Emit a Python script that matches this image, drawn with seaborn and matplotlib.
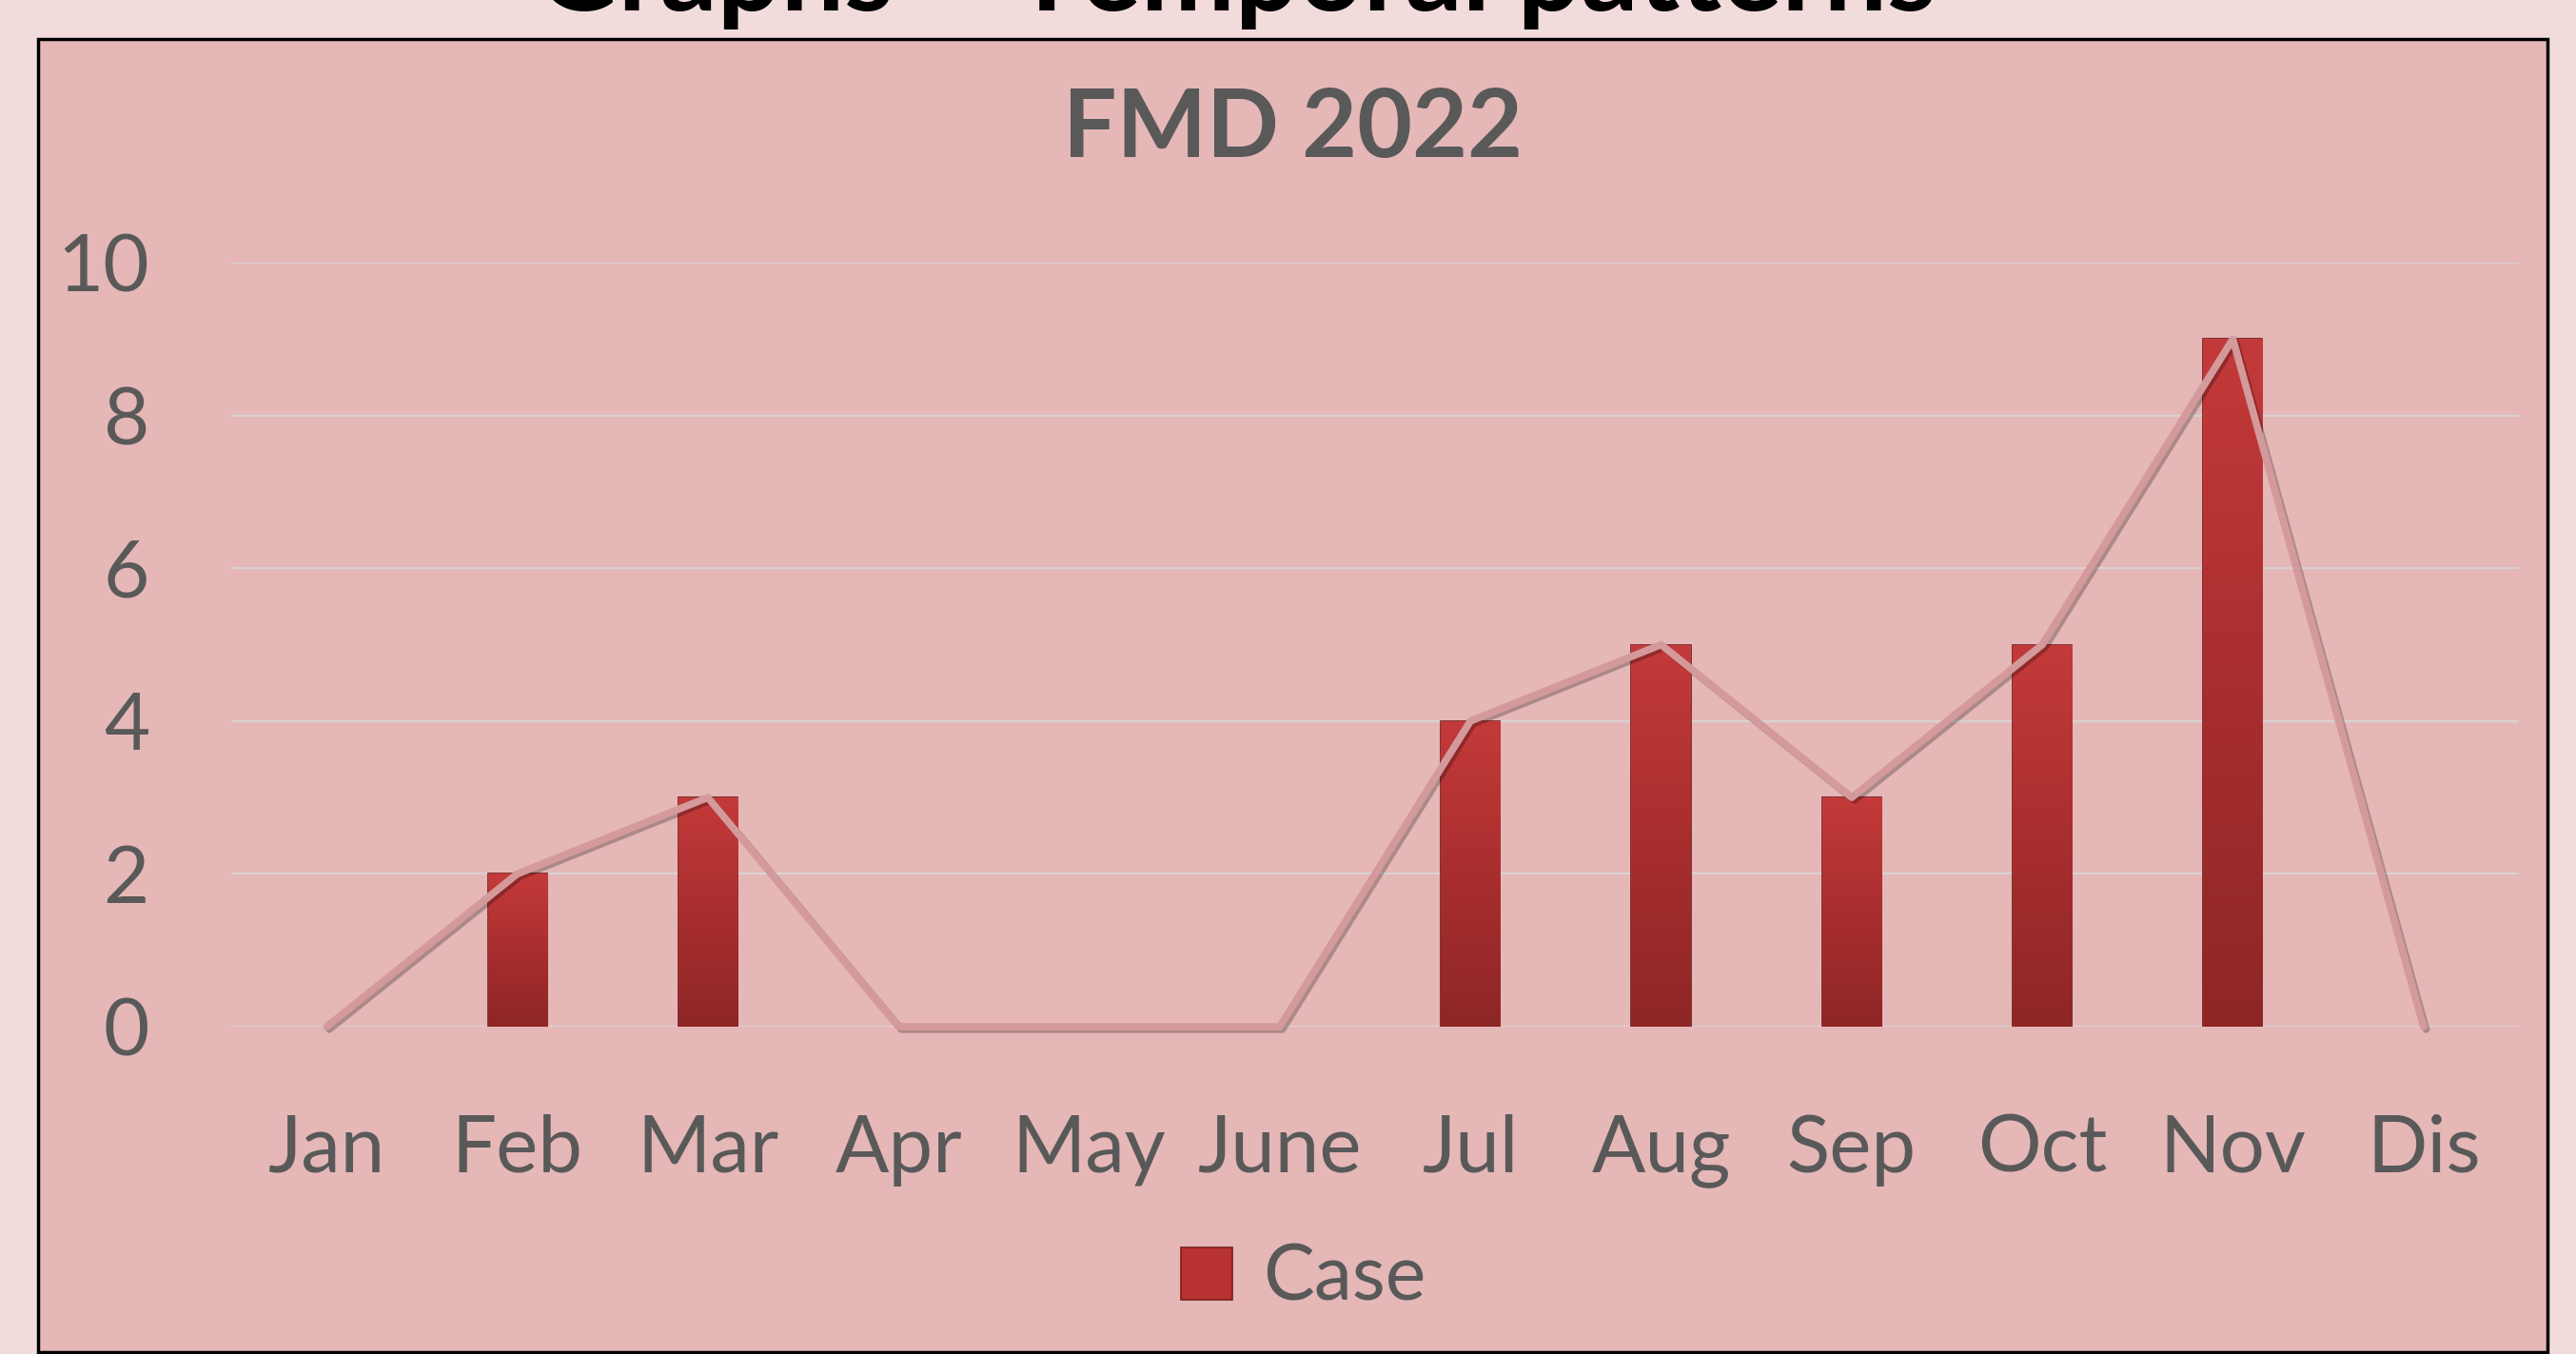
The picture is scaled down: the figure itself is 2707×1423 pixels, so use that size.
import seaborn as sns
import pandas as pd
import numpy as np
import matplotlib.pyplot as plt
import matplotlib.patheffects as pe
from matplotlib.patches import Rectangle
from matplotlib.colors import LinearSegmentedColormap

months = ["Jan", "Feb", "Mar", "Apr", "May", "June", "Jul", "Aug", "Sep", "Oct", "Nov", "Dis"]
cases = [0, 2, 3, 0, 0, 0, 4, 5, 3, 5, 9, 0]
y_ticks = [0, 2, 4, 6, 8, 10]

sns.set_style("white")
plt.rcParams["font.family"] = ["Lato", "DejaVu Sans"]

df = pd.DataFrame({"month": months, "case": cases})

fig = plt.figure(figsize=(27.07, 14.23), dpi=100, facecolor="#f2dcdb")

# panel behind the chart
panel = Rectangle((0.0148, 0.0014), 0.9741, 0.9698, transform=fig.transFigure,
                  facecolor="#e5b7b7", edgecolor="black", lw=2.5, zorder=-5)
fig.patches.append(panel)

ax = fig.add_axes([0.0898, 0.2417, 0.888, 0.5643])
ax.set_facecolor("none")
ax.set_zorder(2)

sns.barplot(data=df, x="month", y="case", color="#b53131", width=0.31,
            edgecolor="#6b1d1d", linewidth=1.2, ax=ax, zorder=3)

# vertical gradient on each bar
grad = LinearSegmentedColormap.from_list("bar", ["#8e2626", "#a92e2e", "#c43a3a"])
for bar in list(ax.patches):
    x0, y0 = bar.get_x(), bar.get_y()
    w, h = bar.get_width(), bar.get_height()
    if h <= 0:
        bar.set_visible(False)
        continue
    im = ax.imshow(np.linspace(0, 1, 256).reshape(-1, 1), cmap=grad, origin="lower",
                   extent=[x0, x0 + w, y0, y0 + h], aspect="auto", zorder=3.5)
    im.set_clip_path(bar)

sns.lineplot(x=np.arange(len(months)), y=cases, color="#d49a9b", linewidth=5.5,
             ax=ax, zorder=5, clip_on=False,
             path_effects=[pe.SimpleLineShadow(offset=(2, -2), alpha=0.25), pe.Normal()])

ax.set_xlim(-0.5, len(months) - 0.5)
ax.set_ylim(0, 10)
ax.set_yticks(y_ticks)
ax.set_xticks(range(len(months)))
ax.set_xticklabels(months)
ax.grid(axis="y", color="#dad2d2", lw=1.6, zorder=0)
ax.set_axisbelow(True)
for s in ax.spines.values():
    s.set_visible(False)
ax.tick_params(axis="y", labelsize=60, colors="#595959", length=0, pad=62)
ax.tick_params(axis="x", labelsize=60, colors="#595959", length=0, pad=66)
ax.set_xlabel("")
ax.set_ylabel("")

legend_box = Rectangle((0, 0), 1, 1, facecolor="#b83232", edgecolor="#7a1f1f", lw=1.2)
ax.legend(handles=[legend_box], labels=["Case"], loc="center",
          bbox_to_anchor=(0.506, 0.0556), bbox_transform=fig.transFigure,
          frameon=False, fontsize=58, labelcolor="#595959",
          handlelength=0.68, handleheight=0.68, handletextpad=0.4)

fig.text(0.502, 0.904, "FMD 2022", ha="center", va="center", fontsize=72,
         fontweight="bold", color="#595959")
fig.text(0.48, 0.9923, "Graphs – Temporal patterns", ha="center", va="baseline",
         fontsize=85, fontweight="bold", color="black")

fig.savefig("out.png", dpi=100, facecolor=fig.get_facecolor())
